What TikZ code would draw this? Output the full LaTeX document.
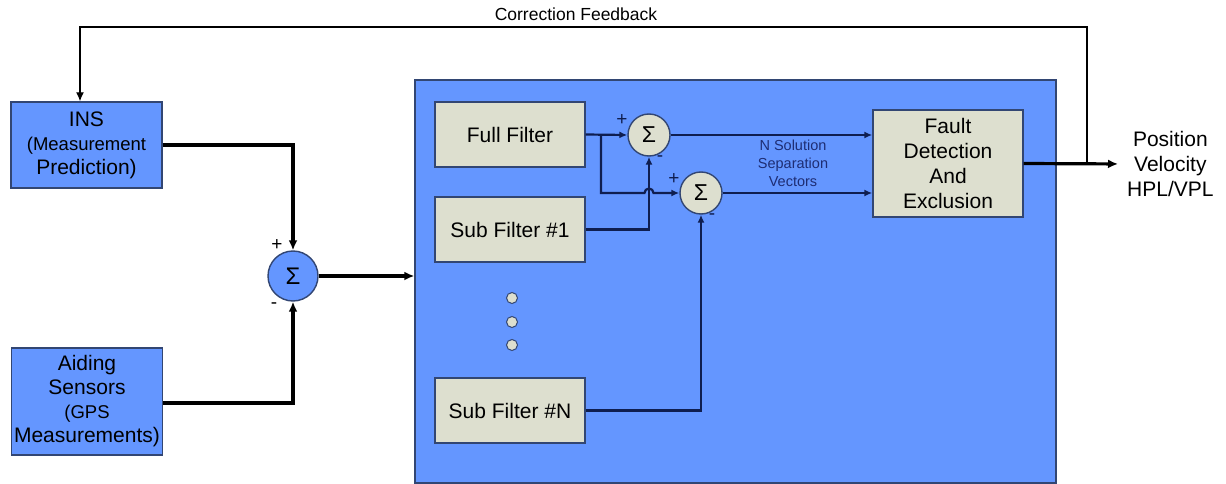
\documentclass[tikz,border=0pt]{standalone}
\usepackage{fontspec}
\setmainfont{Liberation Sans}
\usetikzlibrary{arrows.meta,calc}
\definecolor{bfill}{RGB}{100,150,255}
\definecolor{bdraw}{RGB}{50,70,115}
\definecolor{gfill}{RGB}{221,223,207}
\definecolor{navy}{RGB}{15,30,80}
\definecolor{ntext}{RGB}{30,45,115}
\begin{document}
\begin{tikzpicture}[x=1pt,y=-1pt,
  bluebox/.style={draw=bdraw,line width=1.4pt,fill=bfill,minimum width=151pt,align=center,inner sep=0pt,font=\fontsize{21}{24}\selectfont},
  greybox/.style={draw=bdraw,line width=1.4pt,fill=gfill,minimum width=150pt,align=center,inner sep=0pt,font=\fontsize{21}{25}\selectfont},
  bigsum/.style={circle,draw=bdraw,line width=1.4pt,fill=bfill,minimum size=50pt,inner sep=0pt,font=\fontsize{24}{24}\selectfont},
  smallsum/.style={circle,draw=bdraw,line width=1.4pt,fill=gfill,minimum size=42pt,inner sep=0pt,font=\fontsize{23}{23}\selectfont},
  dotc/.style={circle,draw=bdraw,line width=1pt,fill=gfill,minimum size=11pt,inner sep=0pt},
  thickline/.style={line width=3.2pt,black,-{Latex[length=10pt,width=9pt]}},
  innerline/.style={line width=2.2pt,navy,-{Latex[length=8pt,width=7pt]}},
  sign/.style={font=\fontsize{19}{19}\selectfont,inner sep=0pt},
  fbline/.style={line width=1.3pt,black}
]
\useasboundingbox (0,0) rectangle (1226,484);
\fill[white] (0,0) rectangle (1226,484);

% big enclosing box
\node[draw=bdraw,line width=1.4pt,fill=bfill,minimum width=641pt,minimum height=403pt,inner sep=0pt] (big) at (735.5,281.5) {};

% left blocks
\node[bluebox,minimum height=86pt] (ins) at (86.5,145) {INS\\\fontsize{18.5}{22}\selectfont(Measurement\\Prediction)};
\node[bluebox,minimum height=107pt] (aid) at (87,401.5) {Aiding\\Sensors\\\fontsize{18.5}{23}\selectfont(GPS\\Measurements)};
\node[bigsum] (s0) at (293,276) {Σ};
\node[sign] (s0p) at (277,245) {+};
\node[sign] (s0m) at (274,306) {-};

% inner blocks
\node[greybox,minimum height=65pt] (full) at (510,134.5) {Full Filter};
\node[greybox,minimum height=65pt] (sub1) at (510,229.5) {Sub Filter \#1};
\node[greybox,minimum height=65pt] (subn) at (510,410.5) {Sub Filter \#N};
\node[dotc] (d1) at (512,298) {};
\node[dotc] (d2) at (512,322) {};
\node[dotc] (d3) at (512,345) {};

\node[smallsum] (s1) at (649,135) {Σ};
\node[smallsum] (s2) at (701,193) {Σ};
\node[sign,navy] (s1p) at (622,120) {+};
\node[sign,navy] (s1m) at (660,159) {-};
\node[sign,navy] (s2p) at (674,179) {+};
\node[sign,navy] (s2m) at (712,217) {-};

\node[greybox,minimum height=107pt] (fde) at (948,163.5) {Fault\\Detection\\And\\Exclusion};

\node[align=center,text=ntext,font=\fontsize{14.5}{18}\selectfont,inner sep=0pt] (nsol) at (793,163) {N Solution\\Separation\\Vectors};

\node[align=center,font=\fontsize{21}{25}\selectfont,inner sep=0pt,anchor=west] (out) at (1127,164) {Position\\Velocity\\HPL/VPL};

\node[font=\fontsize{17.5}{17}\selectfont,inner sep=0pt] (cf) at (576,14) {Correction Feedback};

% outer connectors
\draw[thickline] (ins.east) -| (s0.north);
\draw[thickline] (aid.east |- 0,403) -| (s0.south);
\draw[thickline] (s0.east) -- (s0.east -| big.west);

% inner connectors
\coordinate (br) at (601,134.5);
\draw[innerline] (full.east) -- (s1.west);
\draw[innerline] (br) -- (601,193) -- (644.5,193) arc[start angle=180,end angle=360,radius=4.5] -- (s2.west);
\draw[innerline] (sub1.east) -| (s1.south);
\draw[innerline] (subn.east) -| (s2.south);
\draw[innerline] (s1.east) -- (s1.east -| fde.west);
\draw[innerline] (s2.east) -- (s2.east -| fde.west);

% output and feedback
\draw[thickline,shorten >=9pt] (fde.east) -- (out.west);
\coordinate (fb) at (1087,164);
\coordinate (fbtop) at (1087,27);
\coordinate (fbleft) at (80,27);
\draw[fbline,-{Latex[length=9pt,width=8pt]}] (fb) -- (fbtop) -- (fbleft) -- (fbleft |- ins.north);
\end{tikzpicture}
\end{document}
